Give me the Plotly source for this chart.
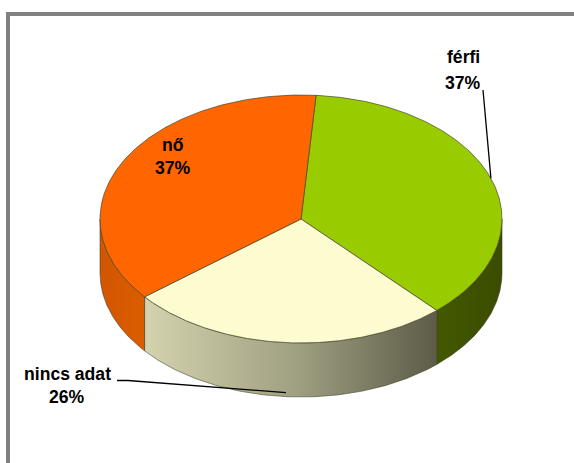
import numpy as np
import plotly.graph_objects as go

# --- data -------------------------------------------------------------
categories = ["férfi", "nincs adat", "nő"]
shares = [37, 26, 37]          # percent

# --- styling ----------------------------------------------------------
top_colors = {"férfi": "#99CC00", "nincs adat": "#FCFCD0", "nő": "#FF6600"}
side_fills = {
    "férfi": [[0, "#445800"], [1, "#3A4C00"]],
    "nincs adat": [[0, "#D3D3AE"], [0.5, "#A2A284"], [1, "#5C5C48"]],
    "nő": [[0, "#D25600"], [1, "#DB5D00"]],
}
# centre of the name line and of the percent line for each label
label_xy = {"férfi": (463, 57, 83), "nincs adat": (67, 374, 397), "nő": (173, 145, 168)}
LABEL_FONT = dict(family="Liberation Sans, Arial", size=17.6, color="black")

W, H = 574, 463
CX, CY, RX, RY, DEPTH = 301, 219, 201, 124, 54   # pie disc in page pixels
START = 85.7                                      # first slice edge, degrees

def rim(t_deg, drop=0.0):
    t = np.radians(t_deg)
    return CX + RX * np.cos(t), CY - RY * np.sin(t) + drop

fig = go.Figure()

fractions = np.array(shares, dtype=float) / np.sum(shares)
edges = START - 360 * np.concatenate([[0], np.cumsum(fractions)])

# side walls (only the front half of the disc is visible)
for i, name in enumerate(categories):
    a0, a1 = edges[i], edges[i + 1]
    for k in (-1, 0, 1):
        lo, hi = max(a1, -180 + 360 * k), min(a0, 360 * k)
        if hi <= lo:
            continue
        t = np.linspace(hi, lo, 120)
        xt, yt = rim(t)
        xb, yb = rim(t[::-1], DEPTH)
        fig.add_trace(go.Scatter(
            x=np.concatenate([xt, xb, xt[:1]]),
            y=np.concatenate([yt, yb, yt[:1]]),
            mode="lines", fill="toself",
            fillgradient=dict(type="horizontal", colorscale=side_fills[name]),
            line=dict(color="rgba(60,60,40,0.55)", width=1),
            hoverinfo="skip", showlegend=False))

# top faces
for i, name in enumerate(categories):
    a0, a1 = edges[i], edges[i + 1]
    t = np.linspace(a0, a1, 240)
    xa, ya = rim(t)
    fig.add_trace(go.Scatter(
        x=np.concatenate([[CX], xa, [CX]]),
        y=np.concatenate([[CY], ya, [CY]]),
        mode="lines", fill="toself", fillcolor=top_colors[name],
        line=dict(color="rgba(70,70,40,0.7)", width=1),
        hoverinfo="skip", showlegend=False))

# labels: category name over its share
for i, name in enumerate(categories):
    lx, y_name, y_pct = label_xy[name]
    for txt, ly in ((name, y_name), (f"{shares[i]}%", y_pct)):
        fig.add_annotation(x=lx, y=ly, text=f"<b>{txt}</b>",
                           showarrow=False, font=LABEL_FONT,
                           xanchor="center", yanchor="middle")

# leader lines
mids = (edges[:-1] + edges[1:]) / 2
fx, fy = rim(mids[0])                 # férfi: top rim at the slice middle
fig.add_trace(go.Scatter(x=[483, fx], y=[90, fy], mode="lines",
                         line=dict(color="black", width=1.3),
                         hoverinfo="skip", showlegend=False))
nx, ny = rim(mids[1], DEPTH - 4)      # nincs adat: lower rim at the slice middle
fig.add_trace(go.Scatter(x=[117, 128, nx], y=[380.5, 380.5, ny], mode="lines",
                         line=dict(color="black", width=1.3),
                         hoverinfo="skip", showlegend=False))

# chart frame
fig.add_shape(type="rect", x0=8, y0=14, x1=W + 20, y1=H + 20,
              line=dict(color="#808080", width=4), layer="below")

fig.update_layout(
    width=W, height=H, margin=dict(l=0, r=0, t=0, b=0),
    paper_bgcolor="white", plot_bgcolor="white",
    xaxis=dict(range=[0, W], visible=False, fixedrange=True),
    yaxis=dict(range=[H, 0], visible=False, fixedrange=True),
    showlegend=False,
)

fig.write_html("out.html", config={"displayModeBar": False})
